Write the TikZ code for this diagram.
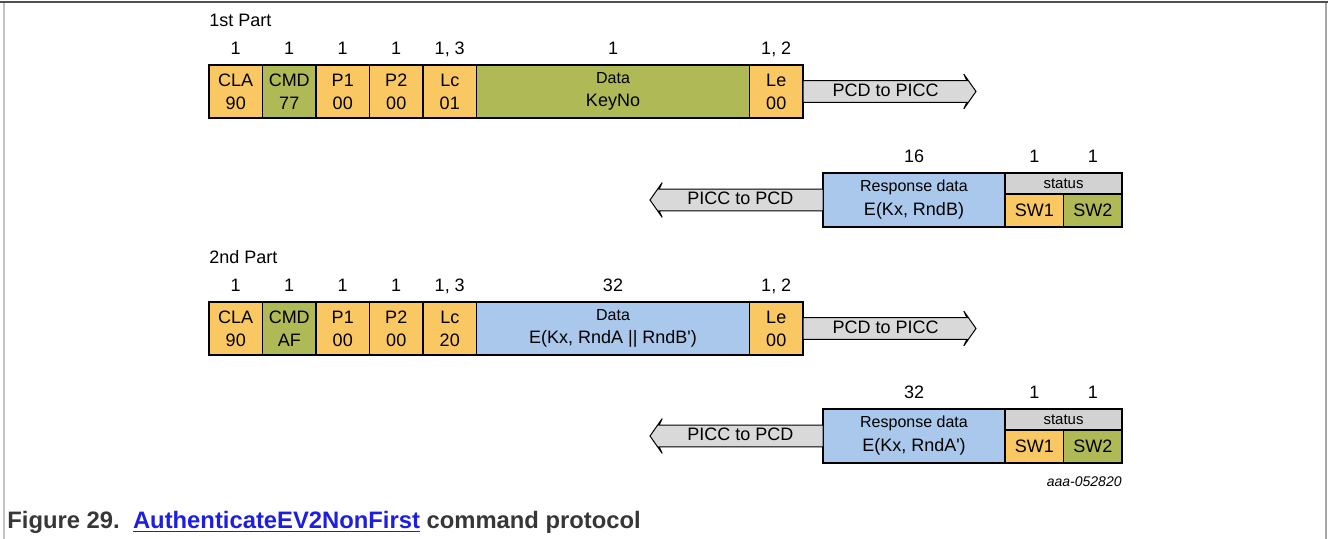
\documentclass[tikz,border=0pt]{standalone}
\usepackage{fontspec}
\setmainfont{Liberation Sans}[Ligatures=TeXOff]
\usetikzlibrary{positioning,shapes.arrows}

\definecolor{fieldorange}{RGB}{249,200,98}
\definecolor{fieldgreen}{RGB}{175,185,85}
\definecolor{fieldblue}{RGB}{169,200,235}
\definecolor{arrowgray}{RGB}{217,217,217}
\definecolor{statusgray}{RGB}{210,210,210}
\definecolor{framedark}{RGB}{80,80,80}
\definecolor{framelight}{RGB}{195,195,195}
\definecolor{capgray}{RGB}{55,55,55}
\definecolor{linkblue}{RGB}{30,30,225}

\newcommand\datafont{\fontsize{8}{12}\selectfont}
\newcommand\fieldfont{\fontsize{9}{11.5}\selectfont}

\tikzset{
  field/.style={draw, line width=0.75pt, inner sep=0pt, outer sep=0pt,
    minimum width=26.75pt, minimum height=26.5pt, align=center, font=\fieldfont},
  numlbl/.style={inner sep=0pt, outer sep=0pt, text height=6.5pt, text depth=1.5pt,
    font=\fontsize{9}{10}\selectfont},
  bytes/.style={label={[numlbl, label distance=3.8pt]above:#1}},
  dirarrow/.style={single arrow, draw, fill=arrowgray, line width=0.5pt,
    minimum height=86.5pt, single arrow head extend=3.25pt,
    single arrow tip angle=110, single arrow head indent=1.5pt,
    inner xsep=2pt, inner ysep=1pt, text height=6.5pt, text depth=1.9pt,
    outer sep=0pt, font=\fontsize{9}{10}\selectfont},
  partlbl/.style={anchor=west, inner sep=0pt, font=\fontsize{9}{10}\selectfont}
}

\begin{document}
\begin{tikzpicture}[x=0.5pt,y=-0.5pt]
  \useasboundingbox (0,0) rectangle (1328,539);
  % page frame
  \draw[framelight, line width=1pt] (4,2) -- (4,539);
  \draw[framelight!85!black, line width=1pt] (1326,2) -- (1326,539);
  \draw[framedark, line width=1pt] (0,2) -- (1328,2);

  % 1st part, command
  \node[partlbl] (part1) at (209,20) {1st Part};
  \node[field, fill=fieldorange, anchor=north west, bytes=1] (cla1) at (209,65) {CLA\\90};
  \node[field, fill=fieldgreen, right=0pt of cla1, bytes=1] (cmd1) {CMD\\77};
  \node[field, fill=fieldorange, right=0pt of cmd1, bytes=1] (pa1) {P1\\00};
  \node[field, fill=fieldorange, right=0pt of pa1, bytes=1] (pb1) {P2\\00};
  \node[field, fill=fieldorange, right=0pt of pb1, bytes={1, 3}] (lc1) {Lc\\01};
  \node[field, fill=fieldgreen, right=0pt of lc1, minimum width=136.5pt, bytes=1] (data1) {{\datafont Data}\\KeyNo};
  \node[field, fill=fieldorange, right=0pt of data1, bytes={1, 2}] (le1) {Le\\00};
  \node[dirarrow, anchor=tail] (tx1) at (le1.east) {PCD to PICC};

  % 1st part, response
  \node[field, fill=fieldblue, anchor=north west, minimum width=91pt, minimum height=27pt,
    font=\fontsize{9}{12}\selectfont, bytes=16] (resp1) at (823,173) {{\datafont Response data}\\E(Kx, RndB)};
  \node[field, fill=statusgray, anchor=north west, minimum width=58.5pt, minimum height=10.5pt,
    font=\fontsize{7.5}{9}\selectfont] (stat1) at (resp1.north east) {status};
  \node[field, fill=fieldorange, anchor=north west, minimum width=29.25pt, minimum height=16.5pt] (swa1) at (stat1.south west) {SW1};
  \node[field, fill=fieldgreen, right=0pt of swa1, minimum width=29.25pt, minimum height=16.5pt] (swb1) {SW2};
  \node[numlbl, above=3.8pt] (nswa1) at (swa1.north |- stat1.north) {1};
  \node[numlbl, above=3.8pt] (nswb1) at (swb1.north |- stat1.north) {1};
  \node[dirarrow, shape border rotate=180, anchor=tail] (rx1) at (resp1.west) {PICC to PCD};

  % 2nd part, command
  \node[partlbl] (part2) at (209,257) {2nd Part};
  \node[field, fill=fieldorange, anchor=north west, bytes=1] (cla2) at (209,302) {CLA\\90};
  \node[field, fill=fieldgreen, right=0pt of cla2, bytes=1] (cmd2) {CMD\\AF};
  \node[field, fill=fieldorange, right=0pt of cmd2, bytes=1] (pa2) {P1\\00};
  \node[field, fill=fieldorange, right=0pt of pa2, bytes=1] (pb2) {P2\\00};
  \node[field, fill=fieldorange, right=0pt of pb2, bytes={1, 3}] (lc2) {Lc\\20};
  \node[field, fill=fieldblue, right=0pt of lc2, minimum width=136.5pt, bytes=32] (data2) {{\datafont Data}\\E(Kx, RndA || RndB')};
  \node[field, fill=fieldorange, right=0pt of data2, bytes={1, 2}] (le2) {Le\\00};
  \node[dirarrow, anchor=tail] (tx2) at (le2.east) {PCD to PICC};

  % 2nd part, response
  \node[field, fill=fieldblue, anchor=north west, minimum width=91pt, minimum height=27pt,
    font=\fontsize{9}{12}\selectfont, bytes=32] (resp2) at (823,409) {{\datafont Response data}\\E(Kx, RndA')};
  \node[field, fill=statusgray, anchor=north west, minimum width=58.5pt, minimum height=10.5pt,
    font=\fontsize{7.5}{9}\selectfont] (stat2) at (resp2.north east) {status};
  \node[field, fill=fieldorange, anchor=north west, minimum width=29.25pt, minimum height=16.5pt] (swa2) at (stat2.south west) {SW1};
  \node[field, fill=fieldgreen, right=0pt of swa2, minimum width=29.25pt, minimum height=16.5pt] (swb2) {SW2};
  \node[numlbl, above=3.8pt] (nswa2) at (swa2.north |- stat2.north) {1};
  \node[numlbl, above=3.8pt] (nswb2) at (swb2.north |- stat2.north) {1};
  \node[dirarrow, shape border rotate=180, anchor=tail] (rx2) at (resp2.west) {PICC to PCD};

  \node[anchor=east, inner sep=0pt, font=\itshape\fontsize{7}{8}\selectfont] (figid) at (1122,482) {aaa-052820};

  % caption
  \node[anchor=west, inner sep=0pt, text=capgray, font=\bfseries\fontsize{11.9}{13}\selectfont] (caption) at (7,522)
    {Figure 29.\ \ \textcolor{linkblue}{\underline{AuthenticateEV2NonFirst}} command protocol};
\end{tikzpicture}
\end{document}
